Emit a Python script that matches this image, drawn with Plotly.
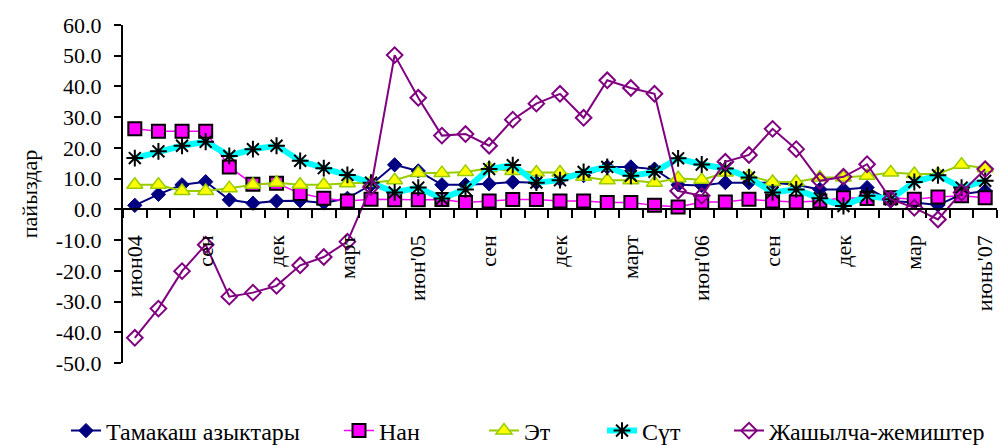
import plotly.graph_objects as go

month_index = list(range(37))
x_tick_pos = [0, 3, 6, 9, 12, 15, 18, 21, 24, 27, 30, 33, 36]
x_tick_labels = ["июн04", "сен", "дек", "март", "июн'05", "сен", "дек", "март",
                 "июн'06", "сен", "дек", "мар", "июнь'07"]
y_tick_vals = [-50, -40, -30, -20, -10, 0, 10, 20, 30, 40, 50, 60]
y_tick_labels = ["-50.0", "-40.0", "-30.0", "-20.0", "-10.0", "0.0",
                 "10.0", "20.0", "30.0", "40.0", "50.0", "60.0"]

tamakash = [1.3, 4.9, 8.0, 9.0, 3.1, 2.0, 2.7, 2.8, 2.1, 3.6, 8.0, 14.5, 12.5,
            8.0, 8.0, 8.3, 8.9, 8.7, 9.8, 11.0, 13.8, 13.8, 13.1, 8.0, 7.8,
            8.7, 8.7, 8.7, 8.0, 6.5, 6.5, 7.1, 2.7, 2.2, 1.4, 4.9, 6.0]
nan = [26.2, 25.4, 25.4, 25.4, 13.8, 8.2, 8.5, 5.2, 3.6, 2.7, 3.3, 3.1, 3.1,
       3.2, 2.2, 2.7, 3.2, 3.2, 2.7, 2.7, 2.2, 2.2, 1.3, 0.8, 2.4,
       2.4, 3.3, 2.7, 2.4, 2.7, 3.8, 3.5, 3.8, 3.3, 4.0, 4.4, 3.8]
et = [8.0, 8.0, 6.0, 6.0, 6.9, 8.0, 8.7, 8.0, 8.0, 8.5, 8.7, 9.5, 11.8,
      11.8, 12.2, 13.4, 12.5, 12.0, 12.0, 10.6, 9.5, 9.5, 8.7, 10.1, 9.6,
      12.0, 10.9, 8.9, 8.9, 10.4, 10.4, 10.9, 12.0, 11.5, 11.5, 14.5, 13.4]
sut = [16.7, 18.9, 20.7, 22.0, 17.4, 19.6, 20.7, 15.8, 13.4, 11.2, 8.7, 5.5, 7.1,
       3.5, 6.5, 13.1, 14.4, 8.7, 9.5, 12.2, 13.8, 10.9, 12.2, 16.6, 14.6,
       13.3, 10.4, 5.5, 6.5, 3.6, 1.1, 4.4, 3.3, 8.9, 11.1, 7.1, 9.3]
jashylcha = [-41.8, -32.3, -20.1, -11.5, -28.4, -27.1, -24.9, -18.2, -15.5, -10.5, 7.3, 50.2, 36.3,
             24.0, 24.5, 20.7, 29.2, 34.4, 37.6, 29.8, 42.0, 39.5, 37.6, 6.0, 4.4,
             15.5, 17.7, 26.2, 19.6, 9.3, 10.6, 14.7, 3.3, 0.5, -3.3, 5.5, 13.1]

FONT = "'Liberation Serif', 'DejaVu Serif', serif"
L, R, T, B = 123, 2, 25, 82
PW, PH = 999 - L - R, 445 - T - B

fig = go.Figure()
fig.add_trace(go.Scatter(
    x=month_index, y=tamakash, name="Тамакаш азыктары", mode="lines+markers",
    legend="legend",
    line=dict(color="#000080", width=2),
    marker=dict(symbol="diamond", size=11, color="#000080",
                line=dict(color="#000080", width=1))))
fig.add_trace(go.Scatter(
    x=month_index, y=nan, name="Нан", mode="lines+markers",
    legend="legend2",
    line=dict(color="#FF00FF", width=1.5),
    marker=dict(symbol="square", size=13, color="#FF00FF",
                line=dict(color="#000000", width=2))))
fig.add_trace(go.Scatter(
    x=month_index, y=et, name="Эт", mode="lines+markers",
    legend="legend3",
    line=dict(color="#99CC00", width=2),
    marker=dict(symbol="triangle-up", size=14, color="#FFFF00",
                line=dict(color="#99CC00", width=1.5))))
fig.add_trace(go.Scatter(
    x=month_index, y=sut, name="Сүт", mode="lines+markers",
    legend="legend4",
    line=dict(color="#00FFFF", width=6),
    marker=dict(symbol="asterisk-open", size=14, color="#000000",
                line=dict(color="#000000", width=2))))
fig.add_trace(go.Scatter(
    x=month_index, y=jashylcha, name="Жашылча-жемиштер", mode="lines+markers",
    legend="legend5",
    line=dict(color="#800080", width=2),
    marker=dict(symbol="diamond-open", size=12, color="#800080",
                line=dict(color="#800080", width=2))))


def leg(text_start_px):
    return dict(orientation="h", x=(text_start_px - 41 - L) / PW, xanchor="left",
                y=-(431 - (T + PH)) / PH, yanchor="middle",
                font=dict(family=FONT, size=24, color="black"),
                bgcolor="rgba(0,0,0,0)", borderwidth=0)


fig.update_layout(
    width=999, height=445,
    margin=dict(l=L, r=R, t=T, b=B, autoexpand=False),
    paper_bgcolor="white", plot_bgcolor="white",
    font=dict(family=FONT, size=22, color="black"),
    showlegend=True,
    legend=leg(107), legend2=leg(380), legend3=leg(525), legend4=leg(643), legend5=leg(770),
    xaxis=dict(
        range=[-0.5, 36.5], anchor="free", position=50 / 110, automargin=False,
        showgrid=False, zeroline=False, showline=True, linecolor="black", linewidth=2,
        tickmode="array", tickvals=x_tick_pos, ticktext=x_tick_labels,
        tickangle=-90, ticks="", ticklabelstandoff=16,
        tickfont=dict(family=FONT, size=22, color="black"),
        minor=dict(tickmode="array", tickvals=[i - 0.5 for i in month_index] + [36.5],
                   ticks="outside", ticklen=8, tickwidth=2, tickcolor="black",
                   showgrid=False),
    ),
    yaxis=dict(
        range=[-50, 60], showgrid=False, zeroline=False, automargin=False,
        showline=True, linecolor="black", linewidth=2,
        tickmode="array", tickvals=y_tick_vals, ticktext=y_tick_labels,
        ticks="outside", ticklen=7, tickwidth=2, tickcolor="black", ticklabelstandoff=8,
        tickfont=dict(family=FONT, size=22, color="black"),
        title=dict(text="пайыздар", font=dict(family=FONT, size=22, color="black"), standoff=12),
    ),
)

fig.write_html("out.html", config={"displayModeBar": False},
               post_script="document.body.style.margin='0';document.body.style.padding='0';")
